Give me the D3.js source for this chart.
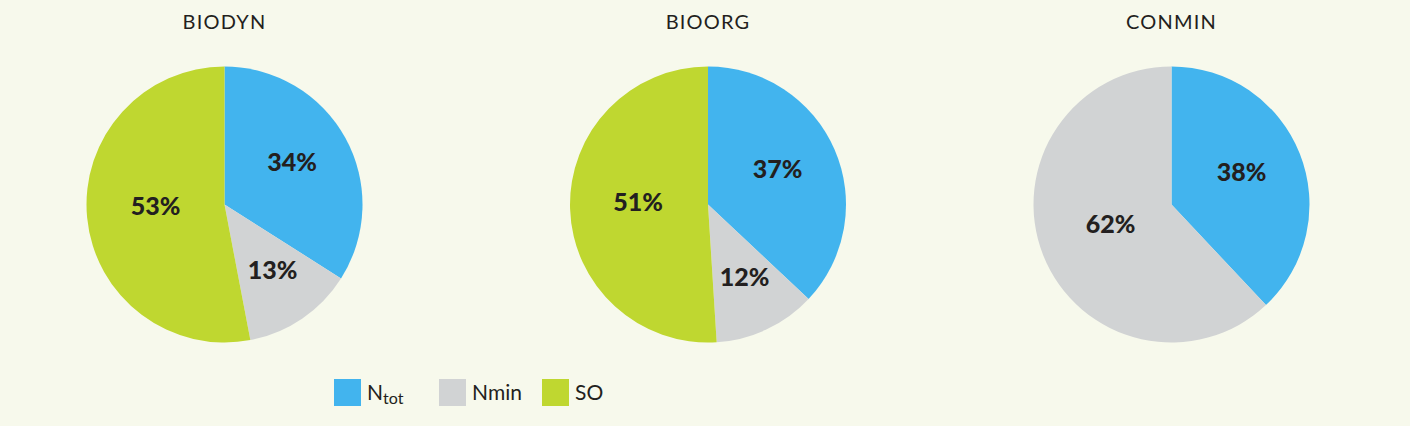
<!DOCTYPE html>
<html>
<head>
<meta charset="utf-8">
<script src="https://cdn.jsdelivr.net/npm/d3@7"></script>
<style>
  html, body { margin: 0; padding: 0; background: #f7f9ec; }
  svg { display: block; }
  text { font-family: Lato, "Open Sans", sans-serif; fill: #231f20; }
</style>
</head>
<body>
<svg id="chart" width="1410" height="426"></svg>
<script>
// ---- data ----
const farms = ["BIODYN", "BIOORG", "CONMIN"];
const categories = ["Ntot", "Nmin", "SO"];
const ntotValues = [34, 37, 38];
const nminValues = [13, 12, 62];
const soValues = [53, 51, 0];
const colors = ["#42b4ee", "#d1d3d4", "#bfd730"];

// ---- layout ----
const W = 1410, H = 426;
const svg = d3.select("#chart");
svg.append("rect").attr("width", W).attr("height", H).attr("fill", "#f7f9ec");

const cx = d3.scaleOrdinal().domain(farms).range([224.5, 708, 1171.5]);
const cy = 204.5;
const radius = 138;
const color = d3.scaleOrdinal().domain(categories).range(colors);

const pie = d3.pie().sort(null).value(d => d.value);
const arc = d3.arc().innerRadius(0).outerRadius(radius);
// smaller slices push their label further out
const labelPos = d => {
  const frac = (d.endAngle - d.startAngle) / (2 * Math.PI);
  const r = radius * (0.66 - 0.3 * frac);
  const [x, y] = d3.arc().innerRadius(r).outerRadius(r).centroid(d);
  return [x, y - 5];
};

farms.forEach((farm, i) => {
  const vals = [ntotValues[i], nminValues[i], soValues[i]];
  const data = categories.map((c, j) => ({ cat: c, value: vals[j] })).filter(d => d.value > 0);
  const g = svg.append("g").attr("transform", `translate(${cx(farm)},${cy})`);

  g.selectAll("path.slice")
    .data(pie(data))
    .join("path")
    .attr("class", "slice")
    .attr("d", arc)
    .attr("fill", d => color(d.data.cat));

  g.selectAll("text.lbl")
    .data(pie(data))
    .join("text")
    .attr("class", "lbl")
    .attr("transform", d => `translate(${labelPos(d)})`)
    .attr("text-anchor", "middle")
    .attr("dy", "0.36em")
    .attr("font-size", 25)
    .attr("font-weight", 900)
    .text(d => d.data.value + "%");

  svg.append("text")
    .attr("x", cx(farm))
    .attr("y", 29)
    .attr("text-anchor", "middle")
    .attr("font-size", 20)
    .attr("letter-spacing", 1.2)
    .text(farm);
});

// ---- legend ----
const legendX = d3.scaleOrdinal().domain(categories).range([334, 439, 542]);
const lg = svg.append("g");
categories.forEach(c => {
  lg.append("rect")
    .attr("x", legendX(c)).attr("y", 379)
    .attr("width", 27).attr("height", 27)
    .attr("fill", color(c));
  const t = lg.append("text")
    .attr("x", legendX(c) + 33)
    .attr("y", 400)
    .attr("font-size", 21);
  if (c === "Ntot") {
    t.append("tspan").text("N");
    t.append("tspan").attr("font-size", 16).attr("dy", 4).text("tot");
  } else {
    t.text(c);
  }
});
</script>
</body>
</html>
